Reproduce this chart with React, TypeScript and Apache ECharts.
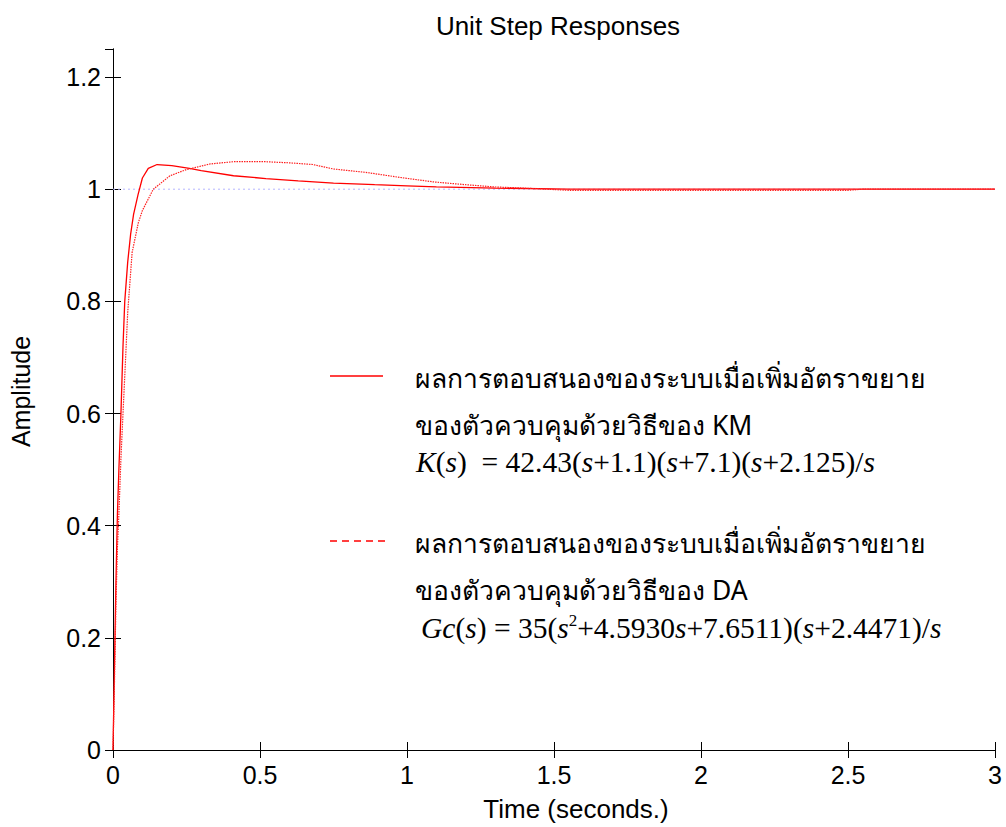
import React, { useEffect, useRef } from "react";
import * as echarts from "echarts";

const titleText = "Unit Step Responses";
const xName = "Time (seconds.)";
const yName = "Amplitude";

// KM controller response (solid)
const kmTime = [0, 0.005, 0.01, 0.015, 0.02, 0.027, 0.034, 0.04, 0.05, 0.06, 0.07, 0.085, 0.1, 0.12, 0.15, 0.2, 0.26, 0.3, 0.41, 0.52, 0.63, 0.75, 0.89, 1.0, 1.1, 1.3, 1.55, 2.0, 2.5, 3.0];
const kmValue = [0, 0.15, 0.3, 0.42, 0.5, 0.6, 0.72, 0.8, 0.87, 0.92, 0.955, 0.99, 1.02, 1.037, 1.044, 1.042, 1.037, 1.033, 1.024, 1.019, 1.015, 1.011, 1.008, 1.006, 1.004, 1.002, 1.0, 1.0, 1.0, 1.0];

// DA controller response (dotted)
const daTime = [0, 0.005, 0.01, 0.015, 0.02, 0.027, 0.034, 0.043, 0.05, 0.065, 0.086, 0.1, 0.137, 0.194, 0.25, 0.33, 0.41, 0.52, 0.6, 0.68, 0.75, 0.86, 0.976, 1.09, 1.2, 1.3, 1.44, 1.55, 2.0, 2.5, 2.55, 3.0];
const daValue = [0, 0.12, 0.26, 0.36, 0.42, 0.52, 0.6, 0.7, 0.78, 0.887, 0.94, 0.962, 1.0, 1.024, 1.035, 1.045, 1.049, 1.049, 1.047, 1.044, 1.036, 1.03, 1.021, 1.013, 1.008, 1.004, 1.001, 0.998, 0.998, 0.998, 1.0, 1.0];

// steady-state reference line
const refTime = [0, 3];
const refValue = [1, 1];

const xTicks = [0, 0.5, 1, 1.5, 2, 2.5, 3];
const yTicks = [0, 0.2, 0.4, 0.6, 0.8, 1, 1.2];

const legendKM1 = "ผลการตอบสนองของระบบเมื่อเพิ่มอัตราขยาย";
const legendKM2 = "ของตัวควบคุมด้วยวิธีของ KM";
const legendDA1 = "ผลการตอบสนองของระบบเมื่อเพิ่มอัตราขยาย";
const legendDA2 = "ของตัวควบคุมด้วยวิธีของ DA";

const zip = (a: number[], b: number[]) => a.map((v, i) => [v, b[i]]);

export default function App() {
  const ref = useRef<HTMLDivElement>(null);
  useEffect(() => {
    if (!ref.current) return;
    const chart = echarts.init(ref.current, null, { renderer: "svg" });
    const sans = "'Liberation Sans', Arial, sans-serif";
    const thai = "Tahoma, 'Noto Sans', 'DejaVu Sans', sans-serif";
    const serif = "'Liberation Serif', 'Times New Roman', serif";
    const axisCommon = {
      type: "value" as const,
      axisLine: { show: true, lineStyle: { color: "#000", width: 1 } },
      axisTick: { show: true, inside: true, length: 8, lineStyle: { color: "#000" } },
      splitLine: { show: false },
    };
    const fmtX = (v: number) => (xTicks.includes(v) ? String(v) : "");
    const fmtY = (v: number) => (yTicks.some((t) => Math.abs(t - v) < 1e-9) ? String(Math.round(v * 10) / 10) : "");
    const fs = 29.5;
    const rich = {
      it: { fontFamily: serif, fontStyle: "italic", fontSize: fs, color: "#000" },
      n: { fontFamily: serif, fontSize: fs, color: "#000" },
      sup: { fontFamily: serif, fontSize: 17, color: "#000", verticalAlign: "top", padding: [0, 0, 16, 0] },
    };
    chart.setOption({
      animation: false,
      backgroundColor: "#fff",
      title: {
        text: titleText,
        left: 553,
        top: 8,
        textAlign: "center",
        textStyle: { fontFamily: sans, fontSize: 26, fontWeight: "normal", color: "#000" },
      },
      grid: { left: 113, right: 11, top: 49, bottom: 76, containLabel: false },
      xAxis: [
        {
          ...axisCommon,
          min: 0,
          max: 3,
          interval: 0.5,
          position: "bottom",
          name: xName,
          nameLocation: "middle",
          nameGap: 46,
          nameTextStyle: { fontFamily: sans, fontSize: 26, color: "#000", padding: [0, 0, 0, 44] },
          axisLabel: { show: true, formatter: fmtX, fontFamily: sans, fontSize: 25, color: "#000", margin: 12 },
        },
        {
          ...axisCommon,
          min: 0,
          max: 3,
          interval: 0.5,
          position: "top",
          axisLabel: { show: false },
        },
      ],
      yAxis: [
        {
          ...axisCommon,
          min: 0,
          max: 1.25,
          interval: 0.2,
          position: "left",
          name: yName,
          nameLocation: "middle",
          nameGap: 80,
          nameTextStyle: { fontFamily: sans, fontSize: 25, color: "#000", padding: [0, 0, 0, 16] },
          axisLabel: { show: true, formatter: fmtY, showMaxLabel: false, fontFamily: sans, fontSize: 25, color: "#000", margin: 12 },
        },
        {
          ...axisCommon,
          min: 0,
          max: 1.25,
          interval: 0.2,
          position: "right",
          axisLabel: { show: false },
        },
      ],
      series: [
        {
          type: "line",
          data: zip(refTime, refValue),
          showSymbol: false,
          lineStyle: { color: "#b4b4ff", width: 1, type: [2, 3] },
          silent: true,
        },
        {
          type: "line",
          name: "KM",
          data: zip(kmTime, kmValue),
          showSymbol: false,
          smooth: false,
          lineStyle: { color: "#ff0000", width: 1.3 },
        },
        {
          type: "line",
          name: "DA",
          data: zip(daTime, daValue),
          showSymbol: false,
          smooth: false,
          lineStyle: { color: "#ff2020", width: 1.2, type: [1.5, 1] },
        },
      ],
      graphic: [
        { type: "line", shape: { x1: 330, y1: 376, x2: 383, y2: 376 }, style: { stroke: "#ff0000", lineWidth: 1.5 } },
        { type: "line", shape: { x1: 330, y1: 541, x2: 385, y2: 541 }, style: { stroke: "#ff0000", lineWidth: 1.5, lineDash: [7, 5] } },
        { type: "text", x: 415, y: 378, style: { text: legendKM1, font: `26.5px ${thai}`, fill: "#000", textVerticalAlign: "middle" } },
        { type: "text", x: 415, y: 425, style: { text: legendKM2, font: `26.5px ${thai}`, fill: "#000", textVerticalAlign: "middle" } },
        {
          type: "text",
          x: 416,
          y: 462,
          style: {
            text: "{it|K}{n|(}{it|s}{n|)  = 42.43(}{it|s}{n|+1.1)(}{it|s}{n|+7.1)(}{it|s}{n|+2.125)/}{it|s}",
            rich,
            textVerticalAlign: "middle",
          },
        },
        { type: "text", x: 415, y: 543, style: { text: legendDA1, font: `26.5px ${thai}`, fill: "#000", textVerticalAlign: "middle" } },
        { type: "text", x: 415, y: 590, style: { text: legendDA2, font: `26.5px ${thai}`, fill: "#000", textVerticalAlign: "middle" } },
        {
          type: "text",
          x: 421,
          y: 628,
          style: {
            text: "{it|Gc}{n|(}{it|s}{n|) = 35(}{it|s}{sup|2}{n|+4.5930}{it|s}{n|+7.6511)(}{it|s}{n|+2.4471)/}{it|s}",
            rich,
            textVerticalAlign: "middle",
          },
        },
      ],
    });
    return () => chart.dispose();
  }, []);
  return <div ref={ref} style={{ position: "absolute", left: 0, top: 0, width: 1006, height: 827 }} />;
}
